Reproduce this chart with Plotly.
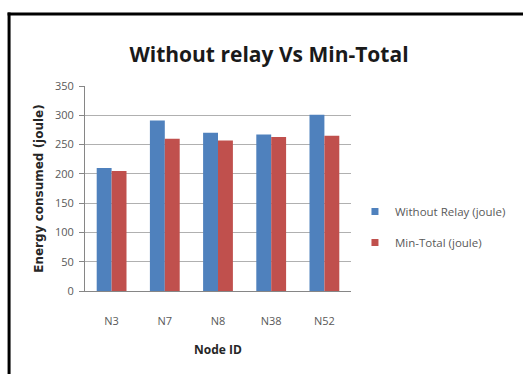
import plotly.graph_objects as go

categories = ["N3", "N7", "N8", "N38", "N52"]
without_relay = [210, 291, 270, 267, 301]
min_total = [205, 260, 257, 263, 265]
series_names = ["Without Relay (joule)", "Min-Total (joule)"]
colors = ["#4F81BD", "#C0504D"]
y_ticks = [0, 50, 100, 150, 200, 250, 300, 350]

W, H = 523, 374
L, R, T, B = 85, 170, 86, 83
pw, ph = W - L - R, H - T - B

def px(x):
    return (x - L) / pw

def py(y):
    return (H - B - y) / ph

fig = go.Figure()
for vals, name, col in zip([without_relay, min_total], series_names, colors):
    fig.add_trace(go.Bar(x=categories, y=vals, name=name, showlegend=False,
                         marker=dict(color=col, line=dict(width=0))))
for i, (name, col) in enumerate(zip(series_names, colors)):
    fig.add_trace(go.Scatter(x=[None], y=[None], mode="markers", name=name,
                             legendgroup=f"g{i}",
                             marker=dict(symbol="square", size=7, color=col)))

font = "Open Sans"
fig.update_layout(
    width=W, height=H,
    margin=dict(l=L, r=R, t=T, b=B),
    paper_bgcolor="white", plot_bgcolor="white",
    barmode="group", bargap=0.44, bargroupgap=0,
    title=dict(text="<b>Without relay Vs Min-Total</b>", x=269 / W, xanchor="center",
               y=1 - 55 / H, yanchor="middle",
               font=dict(family=font, size=21, color="#1a1a1a")),
    font=dict(family=font, size=11, color="#595959"),
    legend=dict(x=px(357), y=py(227), xanchor="left", yanchor="middle",
                font=dict(family=font, size=11.5, color="#595959"),
                itemwidth=30, tracegroupgap=12, bgcolor="rgba(0,0,0,0)"),
    showlegend=True,
    xaxis=dict(showline=True, linecolor="#868686", linewidth=1, ticks="",
               ticklabelstandoff=20,
               tickfont=dict(family=font, size=11, color="#595959"),
               title=dict(text="<b>Node ID</b>", standoff=18,
                          font=dict(family=font, size=12, color="#262626"))),
    yaxis=dict(range=[0, 350], tickvals=y_ticks, showline=True, linecolor="#868686",
               linewidth=1, ticks="outside", ticklen=5, tickcolor="#868686",
               ticklabelstandoff=3,
               showgrid=True, gridcolor="#b0b0b0", gridwidth=1, zeroline=False,
               tickfont=dict(family=font, size=11, color="#595959"),
               title=dict(text="<b>Energy consumed (joule)</b>", standoff=8,
                          font=dict(family="DejaVu Sans", size=12, color="#262626"))),
    shapes=[
        dict(type="line", xref="paper", yref="paper", x0=px(8.5), x1=px(8.5),
             y0=py(12.5), y1=py(H + 5), line=dict(color="black", width=3)),
        dict(type="line", xref="paper", yref="paper", x0=px(7), x1=px(W + 5),
             y0=py(14), y1=py(14), line=dict(color="black", width=3)),
    ],
)

fig.write_html("out.html")
